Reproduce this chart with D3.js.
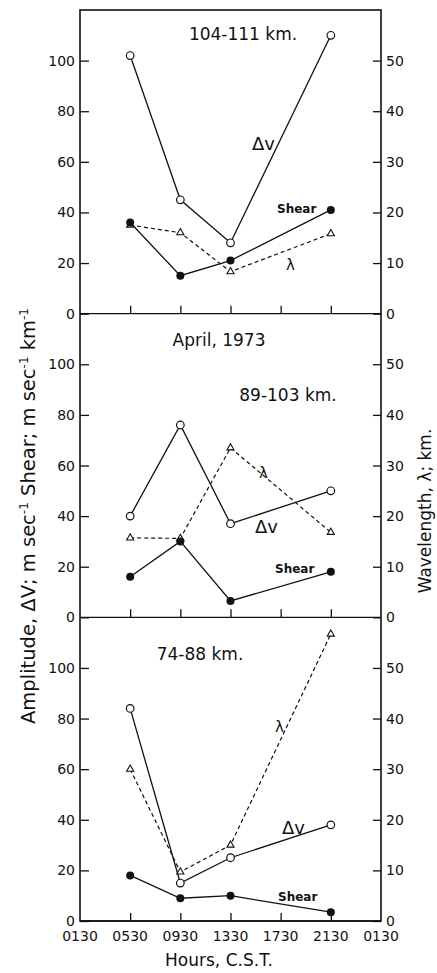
<!DOCTYPE html>
<html>
<head>
<meta charset="utf-8">
<script src="https://cdn.jsdelivr.net/npm/d3@7"></script>
<style>
  body { margin: 0; background: #fff; }
  svg text { font-family: "DejaVu Sans", sans-serif; fill: #111; }
</style>
</head>
<body>
<svg width="437" height="973"></svg>
<script>
// hours (C.S.T.) of the four soundings, as decimal hours (2130 -> 21.5)
var hours = [5.5, 9.5, 13.5, 21.5];
var hourTicks = [1.5, 5.5, 9.5, 13.5, 17.5, 21.5, 25.5];
var hourLabels = ["0130", "0530", "0930", "1330", "1730", "2130", "0130"];

var panelNames = ["104-111 km.", "89-103 km.", "74-88 km."];

// amplitude Δv, m/sec (left axis)
var dvValues = [
  [102, 45, 28, 110],
  [40, 76, 37, 50],
  [84, 15, 25, 38]
];
// shear, m/sec/km (left axis)
var shearValues = [
  [36, 15, 21, 41],
  [16, 30, 6.5, 18],
  [18, 9, 10, 3.5]
];
// wavelength λ, km (right axis)
var lambdaValues = [
  [17.5, 16, 8.3, 15.8],
  [15.7, 15.6, 33.5, 16.8],
  [30, 9.7, 15, 56.7]
];

var leftTicks = [0, 20, 40, 60, 80, 100];
var rightTicks = [0, 10, 20, 30, 40, 50];

(function() {
  var svg = d3.select("svg");
  var fLeft = 80, fRight = 381, fTop = 10, fBottom = 921;
  var ph = (fBottom - fTop) / 3;

  var x = d3.scaleLinear().domain([1.5, 25.5]).range([fLeft, fRight]);

  var lineGen = function(y) {
    return d3.line()
      .x(function(d, i) { return x(hours[i]); })
      .y(function(d) { return y(d); });
  };

  // outer frame
  svg.append("rect")
      .attr("x", fLeft).attr("y", fTop)
      .attr("width", fRight - fLeft).attr("height", fBottom - fTop)
      .attr("fill", "none").attr("stroke", "#111").attr("stroke-width", 1.6);

  panelNames.forEach(function(name, p) {
    var y0 = fTop + ph * (p + 1);
    var yL = d3.scaleLinear().domain([0, 120]).range([y0, y0 - ph]);
    var yR = d3.scaleLinear().domain([0, 60]).range([y0, y0 - ph]);
    var g = svg.append("g");

    // panel baseline
    g.append("line")
        .attr("x1", fLeft).attr("x2", fRight)
        .attr("y1", y0).attr("y2", y0)
        .attr("stroke", "#111").attr("stroke-width", 1.4);

    // axes, ticks pointing inward
    var la = d3.axisRight(yL).tickValues(leftTicks).tickSize(9).tickFormat("");
    g.append("g").attr("transform", "translate(" + fLeft + ",0)").call(la);
    var ra = d3.axisLeft(yR).tickValues(rightTicks).tickSize(8).tickFormat("");
    g.append("g").attr("transform", "translate(" + fRight + ",0)").call(ra);
    var xa = d3.axisTop(x).tickValues(hourTicks.slice(1, -1)).tickSize(8).tickFormat("");
    g.append("g").attr("transform", "translate(0," + y0 + ")").call(xa);
    g.selectAll(".domain").remove();
    g.selectAll(".tick line").attr("stroke", "#111").attr("stroke-width", 1.3);

    g.selectAll(".ltxt").data(leftTicks).enter().append("text")
        .attr("x", fLeft - 5).attr("y", function(d) { return yL(d) + 5; })
        .attr("text-anchor", "end").style("font-size", "14px")
        .text(function(d) { return d; });
    g.selectAll(".rtxt").data(rightTicks).enter().append("text")
        .attr("x", fRight + 5).attr("y", function(d) { return yR(d) + 5; })
        .style("font-size", "14px")
        .text(function(d) { return d; });

    // λ dashed with triangles
    g.append("path").datum(lambdaValues[p])
        .attr("d", lineGen(yR)).attr("fill", "none")
        .attr("stroke", "#111").attr("stroke-width", 1.2)
        .attr("stroke-dasharray", "4,3");
    g.selectAll(".tri").data(lambdaValues[p]).enter().append("path")
        .attr("d", d3.symbol().type(d3.symbolTriangle).size(22))
        .attr("transform", function(d, i) { return "translate(" + x(hours[i]) + "," + yR(d) + ")"; })
        .attr("fill", "#fff").attr("stroke", "#111").attr("stroke-width", 1.1);

    // Δv solid, open circles
    g.append("path").datum(dvValues[p])
        .attr("d", lineGen(yL)).attr("fill", "none")
        .attr("stroke", "#111").attr("stroke-width", 1.3);
    g.selectAll(".dv").data(dvValues[p]).enter().append("circle")
        .attr("cx", function(d, i) { return x(hours[i]); })
        .attr("cy", function(d) { return yL(d); })
        .attr("r", 3.8).attr("fill", "#fff").attr("stroke", "#111").attr("stroke-width", 1.2);

    // shear solid, filled circles
    g.append("path").datum(shearValues[p])
        .attr("d", lineGen(yL)).attr("fill", "none")
        .attr("stroke", "#111").attr("stroke-width", 1.3);
    g.selectAll(".sh").data(shearValues[p]).enter().append("circle")
        .attr("cx", function(d, i) { return x(hours[i]); })
        .attr("cy", function(d) { return yL(d); })
        .attr("r", 4).attr("fill", "#111");
  });

  // panel and series labels
  function label(txt, px, py, size, weight, anchor) {
    svg.append("text").attr("x", px).attr("y", py)
        .attr("text-anchor", anchor || "start")
        .style("font-size", size + "px").style("font-weight", weight || "normal")
        .text(txt);
  }
  label(panelNames[0], 243, 40, 17, "normal", "middle");
  label("April, 1973", 219, 346, 17, "normal", "middle");
  label(panelNames[1], 288, 401, 17, "normal", "middle");
  label(panelNames[2], 200, 660, 17, "normal", "middle");

  label("\u0394v", 252, 150, 18);
  label("Shear", 277, 213, 12, "bold");
  label("\u03bb", 286, 270, 15);

  label("\u03bb", 259, 478, 15);
  label("\u0394v", 255, 533, 18);
  label("Shear", 275, 573, 12, "bold");

  label("\u03bb", 275, 732, 15);
  label("\u0394v", 282, 834, 18);
  label("Shear", 278, 901, 12, "bold");

  // x tick labels on the bottom
  svg.selectAll(".xl").data(hourTicks).enter().append("text")
      .attr("x", function(d) { return x(d); }).attr("y", fBottom + 20)
      .attr("text-anchor", "middle").style("font-size", "14px")
      .text(function(d, i) { return hourLabels[i]; });

  label("Hours, C.S.T.", 219, 966, 17, "normal", "middle");

  // axis titles
  var lt = svg.append("text")
      .attr("transform", "translate(35,516) rotate(-90)")
      .attr("text-anchor", "middle").style("font-size", "19.5px");
  lt.append("tspan").text("Amplitude, \u0394V; m sec");
  lt.append("tspan").attr("dy", -7).style("font-size", "12px").text("-1");
  lt.append("tspan").attr("dy", 7).text(" Shear; m sec");
  lt.append("tspan").attr("dy", -7).style("font-size", "12px").text("-1");
  lt.append("tspan").attr("dy", 7).text(" km");
  lt.append("tspan").attr("dy", -7).style("font-size", "12px").text("-1");

  svg.append("text")
      .attr("transform", "translate(431,511) rotate(-90)")
      .attr("text-anchor", "middle").style("font-size", "17px")
      .text("Wavelength, \u03bb; km.");
})();
</script>
</body>
</html>
